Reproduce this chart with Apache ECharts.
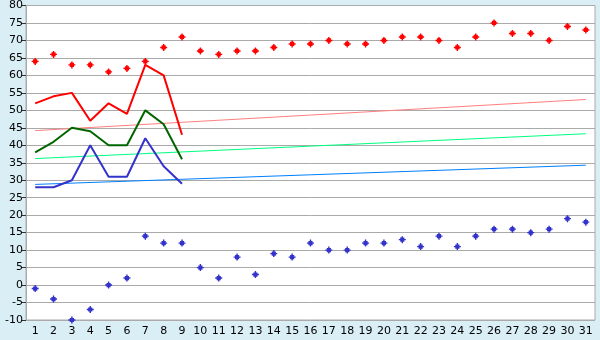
<!DOCTYPE html>
<html><head><meta charset="utf-8">
<script src="https://cdn.jsdelivr.net/npm/echarts@6/dist/echarts.min.js"></script>
<style>html,body{margin:0;padding:0;background:#daeff5;}#c{width:600px;height:340px;}</style>
</head><body><div id="c"></div>
<script>
const days = ['1','2','3','4','5','6','7','8','9','10','11','12','13','14','15','16','17','18','19','20','21','22','23','24','25','26','27','28','29','30','31'];
const recordHigh = [64,66,63,63,61,62,64,68,71,67,66,67,67,68,69,69,70,69,69,70,71,71,70,68,71,75,72,72,70,74,73];
const recordLow = [-1,-4,-10,-7,0,2,14,12,12,5,2,8,3,9,8,12,10,10,12,12,13,11,14,11,14,16,16,15,16,19,18];
const highLine = [52,54,55,47,52,49,63,60,43];
const meanLine = [38,41,45,44,40,40,50,46,36];
const lowLine = [28,28,30,40,31,31,42,34,29];
// trend lines: [start value at day 1, end value at day 31]
const highTrend = [44.2, 53.1];
const meanTrend = [36.2, 43.3];
const lowTrend = [28.8, 34.3];

function trend(t){ const a = days.map(()=>null); a[0]=t[0]; a[a.length-1]=t[1]; return a; }
const mark = 'path://M2,0H3V1H4V2H5V3H4V4H3V5H2V4H1V3H0V2H1V1H2Z';
const chart = echarts.init(document.getElementById('c'));
const font = 'DejaVu Sans';
chart.setOption({
  backgroundColor:'#daeff5',
  animation:false,
  grid:{left:26,right:5,top:5,bottom:20,show:true,backgroundColor:'#ffffff',borderColor:'#aaaaaa',borderWidth:1},
  xAxis:{type:'category',data:days,boundaryGap:true,
    axisLine:{lineStyle:{color:'#aaaaaa'}},
    axisTick:{alignWithLabel:true,length:5,lineStyle:{color:'#333333'}},
    axisLabel:{color:'#000',fontFamily:font,fontSize:11,margin:6,interval:0}},
  yAxis:{type:'value',min:-10,max:80,interval:5,
    axisLine:{show:true,lineStyle:{color:'#aaaaaa'}},
    axisTick:{show:true,length:4,lineStyle:{color:'#333333'}},
    axisLabel:{color:'#000',fontFamily:font,fontSize:11,margin:3},
    splitLine:{lineStyle:{color:'#aaaaaa',width:1}}},
  series:[
    {type:'line',data:trend(highTrend),connectNulls:true,showSymbol:false,lineStyle:{color:'#ff8080',width:1},silent:true},
    {type:'line',data:trend(meanTrend),connectNulls:true,showSymbol:false,lineStyle:{color:'#00ff80',width:1},silent:true},
    {type:'line',data:trend(lowTrend),connectNulls:true,showSymbol:false,lineStyle:{color:'#0080ff',width:1},silent:true},
    {type:'line',data:highLine,showSymbol:false,lineStyle:{color:'#ff0000',width:2}},
    {type:'line',data:meanLine,showSymbol:false,lineStyle:{color:'#006600',width:2}},
    {type:'line',data:lowLine,showSymbol:false,lineStyle:{color:'#3333cc',width:2}},
    {type:'scatter',data:recordHigh,symbol:mark,symbolSize:7,itemStyle:{color:'#ff0000',opacity:1}},
    {type:'scatter',data:recordLow,symbol:mark,symbolSize:7,itemStyle:{color:'#3333cc',opacity:1}}
  ]
});
</script></body></html>
